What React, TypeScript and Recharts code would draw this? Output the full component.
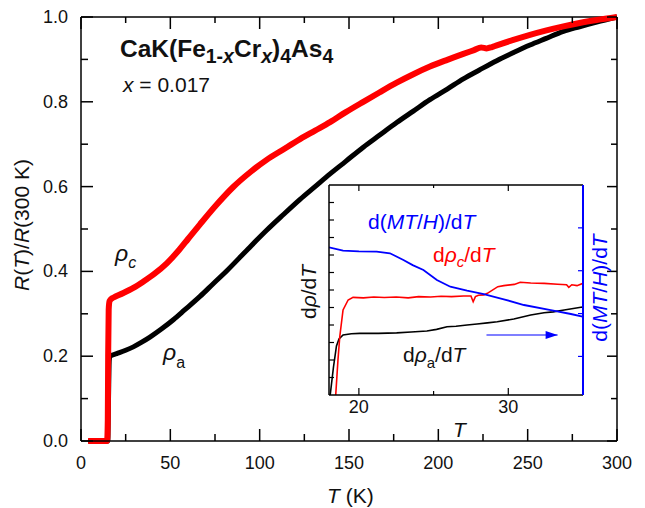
import React from 'react';
import { LineChart, Line, XAxis, YAxis, ReferenceLine } from 'recharts';

const FONT = '"Liberation Sans", Arial, Helvetica, sans-serif';
const RED = '#ff0000';
const BLUE = '#0000ff';
const INK = '#000000';

// ---- main panel: normalized resistance R(T)/R(300 K) ----
const rhoCTemp = [4, 14.6, 15.0, 15.2, 15.5, 16.0, 17.5, 19, 23.7, 29.3, 34.9, 41, 48, 55, 60, 66.6, 75, 85.2, 95, 103.9, 113, 122.6, 131, 139.4, 148, 158, 167, 176.7, 186, 195.3, 205, 214, 220, 224, 227, 230, 232.7, 242, 251.3, 260, 270, 279, 288.6, 300];
const rhoCRatio = [0, 0, 0.05, 0.2, 0.31, 0.33, 0.337, 0.34, 0.349, 0.361, 0.376, 0.394, 0.419, 0.451, 0.477, 0.511, 0.553, 0.599, 0.635, 0.663, 0.687, 0.712, 0.732, 0.752, 0.775, 0.8, 0.822, 0.845, 0.865, 0.883, 0.899, 0.913, 0.922, 0.928, 0.926, 0.929, 0.933, 0.946, 0.958, 0.968, 0.978, 0.986, 0.993, 1.0];

const rhoATemp = [4, 15.0, 15.4, 15.8, 16.2, 20, 25, 29.3, 34, 38.6, 45, 51.7, 58, 66.6, 74, 81.5, 93.5, 103.9, 113, 122.6, 131, 139.4, 148, 158, 167, 176.7, 186, 195.3, 205, 214, 223, 232.7, 242, 251.3, 260, 270, 279, 288.6, 300];
const rhoARatio = [0, 0, 0.1, 0.19, 0.2, 0.206, 0.214, 0.222, 0.233, 0.245, 0.264, 0.286, 0.309, 0.341, 0.371, 0.401, 0.453, 0.497, 0.533, 0.57, 0.6, 0.63, 0.659, 0.693, 0.721, 0.751, 0.778, 0.805, 0.83, 0.854, 0.875, 0.897, 0.916, 0.934, 0.949, 0.966, 0.977, 0.988, 1.0];

const mainXTicks = [0, 25, 50, 75, 100, 125, 150, 175, 200, 225, 250, 275, 300];
const mainYTicks = [0, 0.1, 0.2, 0.3, 0.4, 0.5, 0.6, 0.7, 0.8, 0.9, 1.0];

// ---- inset: derivatives near the transition ----
const dRhoATemp = [18.08, 18.3, 18.5, 18.67, 18.94, 19.5, 20.06, 21.3, 22.53, 23.5, 24.55, 25.2, 25.9, 26.5, 27.24, 27.91, 28.6, 29.26, 30.37, 31.5, 32.39, 33.0, 33.74, 34.86, 35];
const dRhoAVal = [0, 1.6, 2.8, 3.2, 3.43, 3.5, 3.52, 3.52, 3.55, 3.6, 3.66, 3.75, 3.9, 3.93, 4.0, 4.06, 4.12, 4.19, 4.34, 4.57, 4.7, 4.75, 4.86, 5.01, 5.02];

const dRhoCTemp = [18.45, 18.6, 18.72, 18.94, 19.28, 19.61, 20.3, 21, 21.7, 22.5, 23.3, 24, 24.8, 25.5, 26.2, 27, 27.5, 27.65, 27.8, 28.0, 28.36, 28.6, 29.3, 29.7, 30.4, 30.8, 31.5, 32.4, 33.3, 33.9, 34.05, 34.25, 34.6, 35];
const dRhoCVal = [0, 2.0, 3.33, 4.86, 5.43, 5.58, 5.55, 5.6, 5.57, 5.6, 5.55, 5.62, 5.6, 5.64, 5.62, 5.66, 5.66, 5.33, 5.62, 5.7, 5.72, 5.81, 6.19, 6.25, 6.32, 6.44, 6.4, 6.38, 6.33, 6.3, 6.15, 6.3, 6.25, 6.38];

const dMTHTemp = [18.0, 18.94, 20, 21.19, 22.08, 22.98, 23.6, 24.32, 25.22, 26.12, 27.24, 28.36, 29.7, 31.05, 32.84, 34.19, 34.97];
const dMTHVal = [3.546, 3.467, 3.45, 3.444, 3.406, 3.25, 3.13, 3.016, 2.783, 2.627, 2.534, 2.456, 2.333, 2.2, 2.083, 1.99, 1.927];

// arrow pointing to the right-hand (magnetization) axis
const arrowTemp = [28.54, 33.3];
const arrowVal = [3.43, 3.43];

const insetXTicks = [20, 25, 30];
const insetLeftTicks = [1, 2, 3, 4, 5, 6, 7, 8, 9, 10, 11];
const insetRightTicks = [1, 2, 3, 4];

const zip = (xs: number[], ys: number[]) => xs.map((t, i) => ({ t, v: ys[i] }));

const rhoC = zip(rhoCTemp, rhoCRatio);
const rhoA = zip(rhoATemp, rhoARatio);
const dRhoA = zip(dRhoATemp, dRhoAVal);
const dRhoC = zip(dRhoCTemp, dRhoCVal);
const dMTH = zip(dMTHTemp, dMTHVal);
const arrow = zip(arrowTemp, arrowVal);

// main layout: plot area spans x 81..617, y 17..441
const MW = 645;
const MH = 508;
const M_AX_W = 60;
const M_AX_H = 30;
const M_LEFT = 81;
const M_RIGHT = 617;
const M_TOP = 17;
const M_BOTTOM = 441;
const MM = { top: M_TOP, right: MW - M_RIGHT, bottom: MH - M_BOTTOM - M_AX_H, left: M_LEFT - M_AX_W };

// inset layout (chart placed at page offset IX, IY)
const IX = 280;
const IY = 170;
const IW = 345;
const IH = 280;
const I_AX = 30;
const I_LEFT = 49;
const I_RIGHT = 303;
const I_TOP = 15;
const I_BOTTOM = 225;
const IM = { top: I_TOP, right: IW - I_RIGHT - I_AX, bottom: IH - I_BOTTOM - I_AX, left: I_LEFT - I_AX };

const MainXTick = (props: any) => {
  const x = props.x;
  const v = props.payload.value;
  const major = v % 50 === 0;
  return (
    <g>
      <line x1={x} x2={x} y1={M_BOTTOM} y2={M_BOTTOM - (major ? 12 : 7)} stroke={INK} strokeWidth={1.5} />
      <line x1={x} x2={x} y1={M_TOP} y2={M_TOP + (major ? 12 : 6)} stroke={INK} strokeWidth={1.5} />
      {major && (
        <text x={x} y={M_BOTTOM + 28} textAnchor="middle" fontSize={18} fontFamily={FONT} fill="#111">
          {v}
        </text>
      )}
    </g>
  );
};

const MainYTick = (props: any) => {
  const y = props.y;
  const v = props.payload.value;
  const major = Math.round(v * 10) % 2 === 0;
  return (
    <g>
      <line x1={M_LEFT} x2={M_LEFT + (major ? 12 : 7)} y1={y} y2={y} stroke={INK} strokeWidth={1.5} />
      <line x1={M_RIGHT} x2={M_RIGHT - (major ? 10 : 6)} y1={y} y2={y} stroke={INK} strokeWidth={1.5} />
      {major && (
        <text x={M_LEFT - 13} y={y + 6} textAnchor="end" fontSize={18} fontFamily={FONT} fill="#111">
          {v.toFixed(1)}
        </text>
      )}
    </g>
  );
};

const InsetXTick = (props: any) => {
  const x = props.x;
  const v = props.payload.value;
  const major = v % 10 === 0;
  return (
    <g>
      <line x1={x} x2={x} y1={I_BOTTOM} y2={I_BOTTOM - (major ? 7 : 4)} stroke={INK} strokeWidth={1.2} />
      <line x1={x} x2={x} y1={I_TOP} y2={I_TOP + (major ? 6 : 3)} stroke={INK} strokeWidth={1.2} />
      {major && (
        <text x={x} y={I_BOTTOM + 18} textAnchor="middle" fontSize={18} fontFamily={FONT} fill="#111">
          {v}
        </text>
      )}
    </g>
  );
};

const InsetLeftTick = (props: any) => (
  <line x1={I_LEFT} x2={I_LEFT + 5} y1={props.y} y2={props.y} stroke={INK} strokeWidth={1.2} />
);

const InsetRightTick = (props: any) => (
  <line x1={I_RIGHT} x2={I_RIGHT - 5} y1={props.y} y2={props.y} stroke={BLUE} strokeWidth={1.2} />
);

const ArrowHead = (props: any) => {
  const { cx, cy, index } = props;
  if (index !== 1) return <g key={`a${index}`} />;
  return <path key="ah" d={`M${cx},${cy} L${cx - 12},${cy - 4} L${cx - 12},${cy + 4} Z`} fill={BLUE} />;
};

const it = { fontStyle: 'italic' as const };

export default function App() {
  return (
    <div style={{ position: 'absolute', left: 0, top: 0, width: MW, height: MH, background: '#fff' }}>
      <div style={{ position: 'absolute', left: 0, top: 0 }}>
        <LineChart width={MW} height={MH} margin={MM}>
          <XAxis
            dataKey="t"
            type="number"
            domain={[0, 300]}
            ticks={mainXTicks}
            interval={0}
            height={M_AX_H}
            tickLine={false}
            axisLine={{ stroke: INK, strokeWidth: 1.5 }}
            tick={(p: any) => <MainXTick {...p} />}
          />
          <YAxis
            type="number"
            domain={[0, 1]}
            ticks={mainYTicks}
            interval={0}
            width={M_AX_W}
            tickLine={false}
            axisLine={{ stroke: INK, strokeWidth: 1.5 }}
            tick={(p: any) => <MainYTick {...p} />}
          />
          <ReferenceLine y={1} stroke={INK} strokeWidth={1.5} />
          <ReferenceLine x={300} stroke={INK} strokeWidth={1.5} />
          <Line data={rhoA} dataKey="v" type="monotone" stroke={INK} strokeWidth={5} dot={false} isAnimationActive={false} />
          <Line data={rhoC} dataKey="v" type="monotone" stroke={RED} strokeWidth={6} dot={false} isAnimationActive={false} />
        </LineChart>
      </div>

      <div style={{ position: 'absolute', left: IX, top: IY }}>
        <LineChart width={IW} height={IH} margin={IM}>
          <XAxis
            dataKey="t"
            type="number"
            domain={[18, 35]}
            ticks={insetXTicks}
            interval={0}
            height={I_AX}
            allowDataOverflow
            tickLine={false}
            axisLine={{ stroke: INK, strokeWidth: 1.5 }}
            tick={(p: any) => <InsetXTick {...p} />}
          />
          <YAxis
            yAxisId="l"
            type="number"
            domain={[0, 12]}
            ticks={insetLeftTicks}
            interval={0}
            width={I_AX}
            allowDataOverflow
            tickLine={false}
            axisLine={{ stroke: INK, strokeWidth: 1.5 }}
            tick={(p: any) => <InsetLeftTick {...p} />}
          />
          <YAxis
            yAxisId="r"
            orientation="right"
            type="number"
            domain={[0.1, 5]}
            ticks={insetRightTicks}
            interval={0}
            width={I_AX}
            allowDataOverflow
            tickLine={false}
            axisLine={{ stroke: BLUE, strokeWidth: 2 }}
            tick={(p: any) => <InsetRightTick {...p} />}
          />
          <ReferenceLine yAxisId="l" y={12} stroke={INK} strokeWidth={1.5} />
          <Line yAxisId="l" data={dRhoA} dataKey="v" type="linear" stroke={INK} strokeWidth={1.6} dot={false} isAnimationActive={false} />
          <Line yAxisId="l" data={dRhoC} dataKey="v" type="linear" stroke={RED} strokeWidth={1.6} dot={false} isAnimationActive={false} />
          <Line yAxisId="r" data={dMTH} dataKey="v" type="linear" stroke={BLUE} strokeWidth={1.8} dot={false} isAnimationActive={false} />
          <Line yAxisId="l" data={arrow} dataKey="v" type="linear" stroke={BLUE} strokeWidth={1.2} dot={(p: any) => <ArrowHead {...p} />} isAnimationActive={false} />
        </LineChart>
      </div>

      <svg
        width={MW}
        height={MH}
        style={{ position: 'absolute', left: 0, top: 0, pointerEvents: 'none' }}
        fontFamily={FONT}
      >
        {/* compound formula */}
        <text x={120} y={57} fontSize={24.5} fontWeight="bold" fill="#111">
          CaK(Fe
          <tspan fontSize={19.5} dy={6}>1-</tspan>
          <tspan fontSize={19.5} style={it}>x</tspan>
          <tspan dy={-6}>Cr</tspan>
          <tspan fontSize={19.5} dy={6} style={it}>x</tspan>
          <tspan dy={-6}>)</tspan>
          <tspan fontSize={19.5} dy={6}>4</tspan>
          <tspan dy={-6}>As</tspan>
          <tspan fontSize={19.5} dy={6}>4</tspan>
        </text>
        <text x={123} y={92} fontSize={21} fill="#111">
          <tspan style={it}>x</tspan> = 0.017
        </text>

        {/* curve labels */}
        <text x={115} y={261} fontSize={23} fill="#111">
          <tspan style={it}>ρ</tspan>
          <tspan fontSize={16} dy={7} style={it}>c</tspan>
        </text>
        <text x={163} y={360} fontSize={23} fill="#111">
          <tspan style={it}>ρ</tspan>
          <tspan fontSize={16} dy={8}>a</tspan>
        </text>

        {/* main axis titles */}
        <text x={29} y={225} fontSize={21} textAnchor="middle" transform="rotate(-90, 29, 225)" fill="#111">
          <tspan style={it}>R</tspan>(<tspan style={it}>T</tspan>)/<tspan style={it}>R</tspan>(300 K)
        </text>
        <text x={327} y={503} fontSize={21} fill="#111">
          <tspan style={it}>T</tspan> (K)
        </text>

        {/* inset labels */}
        <text x={368} y={229} fontSize={21} fill={BLUE}>
          d(<tspan style={it}>MT</tspan>/<tspan style={it}>H</tspan>)/d<tspan style={it}>T</tspan>
        </text>
        <text x={433} y={262} fontSize={21} fill={RED}>
          d<tspan style={it}>ρ</tspan>
          <tspan fontSize={15} dy={5} style={it}>c</tspan>
          <tspan dy={-5}>/d</tspan>
          <tspan style={it}>T</tspan>
        </text>
        <text x={403} y={362} fontSize={21} fill="#111">
          d<tspan style={it}>ρ</tspan>
          <tspan fontSize={15} dy={6}>a</tspan>
          <tspan dy={-6}>/d</tspan>
          <tspan style={it}>T</tspan>
        </text>
        <text x={316} y={292} fontSize={21} textAnchor="middle" transform="rotate(-90, 316, 292)" fill="#111">
          d<tspan style={it}>ρ</tspan>/d<tspan style={it}>T</tspan>
        </text>
        <text x={607} y={288} fontSize={21} textAnchor="middle" transform="rotate(-90, 607, 288)" fill={BLUE}>
          d(<tspan style={it}>MT</tspan>/<tspan style={it}>H</tspan>)/d<tspan style={it}>T</tspan>
        </text>
        <text x={453} y={437} fontSize={21} fill="#111" style={it}>
          T
        </text>
      </svg>
    </div>
  );
}
